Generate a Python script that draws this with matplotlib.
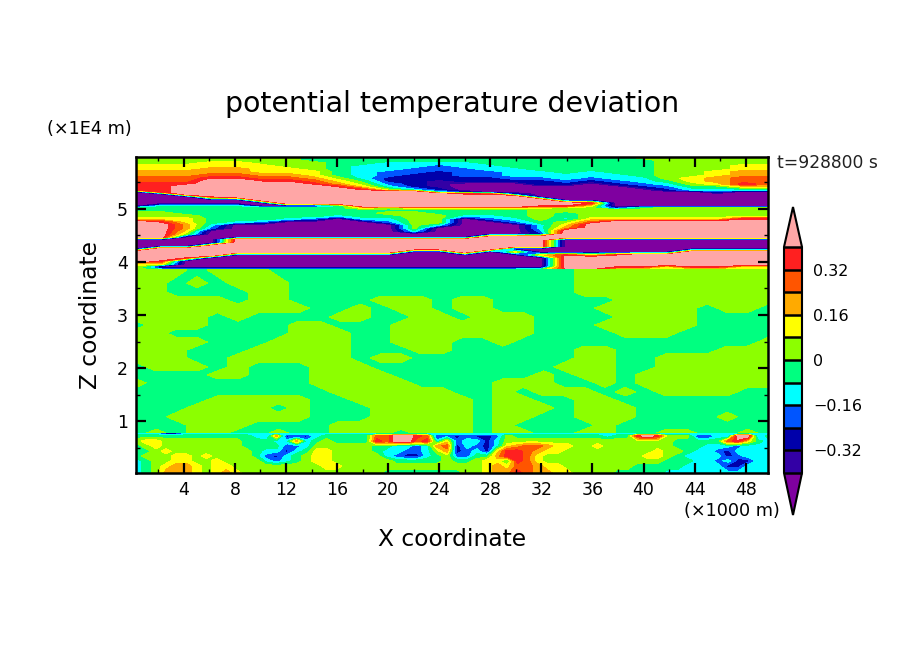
import numpy as np
import matplotlib
matplotlib.use('Agg')
import matplotlib.pyplot as plt

W, H = 904, 654

# deviation values, one per colour band (K)
P, R, O, A, Y, L = 0.46, 0.36, 0.28, 0.20, 0.12, 0.04
S, C, B, N, I, V = -0.04, -0.12, -0.20, -0.28, -0.36, -0.46

levels = [-0.40, -0.32, -0.24, -0.16, -0.08, 0, 0.08, 0.16, 0.24, 0.32, 0.40]
band_colors = ['#7f00a0', '#3300a5', '#0000aa', '#0055ff', '#00ffff', '#00ff80',
               '#8cff00', '#ffff00', '#ffaa00', '#ff5500', '#ff2020', '#ffa6a6']
cbar_ticks = [-0.32, -0.16, 0, 0.16, 0.32]
cbar_labels = ['\u22120.32', '\u22120.16', '0', '0.16', '0.32']
x_ticks = list(range(4, 49, 4))
z_ticks = [1, 2, 3, 4, 5]

# upper layers, z from top down (x1E4 m), one list per x station
z_top = [5.98, 5.92, 5.87, 5.81, 5.75, 5.70, 5.64, 5.58, 5.53, 5.47,
         5.42, 5.36, 5.32, 5.28, 5.23, 5.17, 5.11, 5.06, 5.02, 4.98,
         4.92, 4.87, 4.81, 4.75, 4.70, 4.64, 4.58, 4.53, 4.47, 4.42,
         4.36, 4.30, 4.25, 4.19, 4.13, 4.08, 4.02, 3.96, 3.91, 3.85]
theta_top = [
    [L,L,L,Y,Y,A,A,O,O,R,R,R]+[V]*6+[S,S,L,L,Y]+[P]*6+[V]*4+[P]*4+[Y,L,L],
    [L,L,L,Y,Y,A,A,O,O,R,R,R,R]+[V]*4+[C,S,S,L,L,Y,R]+[P]*5+[V]*3+[P]*4+[R,Y,V,S],
    [L,L,L,Y,Y,A,A,O,O,R]+[P]*4+[V]*3+[C,S,S,S,L,Y,Y,A,A,Y,L]+[V]*4+[P]*3+[R]+[V]*3+[S],
    [L,L,Y,Y,A,A,O,R]+[P]*6+[R,V,V,C]+[S]*6+[C,B]+[V]*5+[P]*4+[V]*4+[S],
    [L,L,Y,Y,A,A,O,R]+[P]*7+[V,V,C]+[S]*5+[C]+[V]*5+[P]*5+[V]*5+[S],
    [L,L,L,Y,Y,Y,A,O,R]+[P]*7+[V,V]+[S]*5+[B]+[V]*5+[P]*5+[V]*5+[S],
    [L,L,L,L,Y,Y,A,O,R]+[P]*8+[V]+[S]*4+[C]+[V]*6+[P]*5+[V]*5+[S],
    [S,S,L,L,L,Y,Y,A,O,R]+[P]*7+[V]+[S]*4+[B]+[V]*6+[P]*5+[V]*5+[S],
    [S]*7+[L,Y,A,R]+[P]*6+[C]+[S]*3+[C]+[V]*7+[P]*5+[V]*5+[S],
    [S,S,S]+[C]*5+[S,L,Y,R]+[P]*6+[Y]+[S]*3+[C]+[V]*6+[P]*5+[V]*5+[S],
    [S,S,C,C,C,B,B,N,N,B,C,L]+[P]*6+[L,S,L,S,C,B]+[V]*5+[P]*5+[V]*5+[S],
    [S,S,C,C,B,B,N,N,N,N,N,C]+[P]*6+[Y,S]+[L]*6+[C,V,V]+[P]*4+[V]*6+[S],
    [S,S,C,B,B,N,N,N,I,I,I,N,C]+[P]*5+[Y,S,S,L,L,L,C]+[V]*4+[P]*4+[V]*6+[S],
    [S,S,C,C,B,B,B,N,N,V,V,V,N,R]+[P]*4+[Y,S,S,C]+[V]*7+[P]*5+[V]*5+[S],
    [S,S,S,C,C,B,B,N,N,V,V,V,V,R]+[P]*4+[Y,S,S,C,B]+[V]*5+[P]*5+[V]*6+[S],
    [S,S,S,S,C,C,C,B,N]+[V]*4+[N]+[P]*4+[Y,S,S,S,C,B]+[V]*4+[P]*4+[V,Y]+[V]*5+[S],
    [S]*5+[C,C,B,N,N]+[V]*5+[P,P,R,Y,L,L,L,L,S,C,C,B,N]+[P]*4+[V,V,Y]+[V]*4+[L],
    [S]*6+[C,C,B,N]+[V]*6+[P,R,L,L,S,S,C,L,Y,A]+[P]*3+[V]*5+[R]+[P]*4+[R],
    [S]*5+[C,C,B,N]+[V]*7+[R,Y]+[L]*4+[Y,O]+[P]*5+[V]*5+[Y]+[P]*4+[R],
    [S]*6+[C,C,B,N]+[V]*8+[N,L,L,L,Y]+[P]*6+[V]*5+[R]+[P]*3+[R,L],
    [L]+[S]*6+[C,C,B,N]+[V]*7+[S,L,L,L,Y]+[P]*6+[V]*5+[P]*4+[R,L],
    [L]*8+[S,C,B,N]+[V]*6+[L]*4+[Y]+[P]*6+[V]*5+[P]*4+[Y,L],
    [L]*7+[Y,Y,L,S,C]+[V]*6+[L]*4+[Y]+[P]*6+[V]*4+[P]*5+[R,L],
    [L]*5+[Y,Y,A,A,Y,S,C,N]+[V]*5+[L]*4+[Y]+[P]*6+[V]*4+[P]*5+[R,L],
    [L]*3+[Y,Y,A,A,O,O,R,Y,C]+[V]*6+[L]*4+[R]+[P]*6+[V]*4+[P]*5+[Y,L],
    [L]*3+[Y,Y,A,A,O,O,O,Y,C]+[V]*6+[L]*4+[R]+[P]*6+[V]*4+[P]*5+[Y,L],
]

# middle of the domain, patchy lime / green, one list per z
z_mid = [3.85, 3.60, 3.43, 3.28, 3.13, 2.96, 2.81, 2.66, 2.49, 2.34, 2.19,
         2.02, 1.87, 1.72, 1.55, 1.40, 1.25, 1.08, 0.92, 0.77]
theta_mid = [
    [L,L,L,S,L,L,L,S,S,S,S,S,S,S,S,S,S,S,S,S,S,S,L,L,L,L,L,L,L,L,L,L],
    [L,L,S,L,S,L,L,L,S,S,S,S,S,S,S,S,S,S,S,S,S,S,L,L,L,L,L,L,L,L,L,L],
    [L,L,S,S,S,S,L,L,S,S,S,S,S,S,S,S,S,S,S,S,S,S,L,L,L,L,L,L,L,L,L,L],
    [L,L,L,L,L,S,L,L,S,S,S,S,L,L,L,S,L,L,S,S,S,S,S,S,L,L,L,L,L,L,L,L],
    [L,L,L,L,L,L,L,L,L,S,S,L,S,L,L,S,L,L,S,S,S,S,S,L,L,L,L,L,S,L,L,S],
    [L,L,L,L,S,L,S,S,S,S,L,L,S,S,L,L,S,L,L,L,S,S,S,S,L,L,L,L,S,S,S,S],
    [S,L,L,L,S,S,S,S,L,L,S,S,S,L,L,L,L,L,L,L,S,S,S,L,L,L,L,L,S,S,S,S],
    [L,L,S,S,S,S,S,S,L,L,L,S,S,L,L,L,L,L,L,L,S,S,S,S,L,L,L,S,S,S,S,S],
    [L,L,L,L,S,S,S,L,L,L,L,S,S,L,L,L,S,S,L,S,S,S,S,S,S,S,S,S,S,S,S,L],
    [L,L,L,S,S,S,L,L,L,L,L,S,S,S,L,L,S,S,S,S,S,S,L,L,S,S,S,S,S,L,L,L],
    [L,L,L,S,S,L,L,L,L,L,L,S,L,L,S,S,S,S,S,S,S,S,L,L,S,S,L,L,L,L,L,L],
    [S,L,L,L,S,L,S,S,S,L,L,L,S,S,S,S,S,S,S,S,S,L,L,L,S,S,L,L,L,L,L,L],
    [S,S,S,S,L,L,S,S,S,L,L,L,L,S,S,S,S,S,S,S,L,S,L,L,S,L,L,L,L,L,L,L],
    [L,S,S,S,S,S,S,S,S,L,L,L,L,L,S,S,S,S,L,L,L,S,S,L,S,L,L,L,L,L,L,L],
    [S,S,S,S,S,S,S,S,S,S,L,L,L,L,L,L,S,S,L,S,L,L,L,S,L,S,L,L,L,L,S,S],
    [S,S,S,S,L,L,L,L,L,S,S,L,L,L,L,L,L,S,L,L,S,S,L,L,S,S,S,S,S,S,S,S],
    [S,S,S,L,L,L,L,S,L,S,S,S,L,L,L,L,L,S,L,L,L,S,L,L,L,S,S,S,S,S,S,S],
    [S,S,L,L,L,L,L,L,L,S,S,S,L,L,L,L,L,S,L,L,S,S,L,L,L,S,S,S,S,L,S,S],
    [S,S,S,L,L,L,S,S,S,S,L,L,L,L,L,L,L,S,L,S,S,S,S,L,S,S,S,S,S,S,S,S],
    [S,L,S,L,L,S,S,L,S,S,L,L,L,S,L,L,L,S,L,L,S,S,L,L,S,S,L,L,S,S,L,S],
]

# lowest layer with the eddies, one list per z
z_low = [0.76, 0.72, 0.62, 0.53, 0.43, 0.34, 0.25, 0.15, 0.02]
theta_low = [
    [C,C,C,N,N]+[C]*59,
    [S]*12+[C,B,A,N,N,N,C]+[S]*5+[O,O,P,P,R,O,N,B,N,B,N,N,B,L]+[S]*9+[C,S,S,R,P,R,L,L,L,N,N,C,B,P,P,B,S],
    [L,Y,Y]+[L]*8+[S,S,S,C,C,A,C,S,L,S,S,S,S,R,O,P,P,O,R,C,Y,B,C,C,N,C]+[L]*17+[S]*5+[O,R,Y,S,C],
    [S,L,Y]+[L]*8+[S,S,S,S,B,B,C,L]+[L]*5+[S,S,C,C,B,C,A,O,N,C,B,N,C,Y,A,O,O,A,Y,Y,L,L,Y]+[L]*7+[S,S,S,C,C,C,B,C,C,C],
    [S,S,L,Y]+[L]*8+[S,C,C,N,C,S,Y,Y,L,L,L,L,S,C,C,B,B,C,L,A,N,B,C,N,Y,R,R,O,A,Y,Y]+[L]*9+[Y,L,L,S,C,C,B,N,C,C,C,C],
    [S,L,L,L,Y,Y,L,Y]+[L]*4+[S,B,N,C,S,L,Y,Y]+[L]*5+[C,B,N,N,C,S,L,B,B,S,S,A,R,R,O,Y]+[L]*10+[Y,Y,L,S,C,C,C,C,N,B,C,C,C],
    [C,S,L,L,Y,Y,L,L,Y]+[L]*4+[C,B,C,S,L,Y,Y]+[L]*6+[S]*5+[L,S,S,L,Y,Y,S,R,O,Y]+[L]*12+[S,S,S,C,C,B,C,N,N,C,C],
    [C,S,L,Y,A,A,Y,L,Y,Y]+[L]*9+[Y,Y]+[L]*14+[Y,A,Y,O,O,A,Y,Y]+[L]*7+[S]*5+[C]*4+[N,N,C,C,C],
    [C,S,L,A,A,A,Y,L,Y,A,Y]+[L]*14+[S]*8+[L,L,Y,A,A,R,O,A,A,Y,Y]+[L]*4+[S]*5+[C]*11,
]

x_top = np.linspace(0.25, 49.75, len(theta_top))
x_mid = np.linspace(0.25, 49.75, len(theta_mid[0]))
x_low = np.linspace(0.25, 49.75, len(theta_low[0]))

fig = plt.figure(figsize=(W / 100, H / 100), dpi=100)
ax = fig.add_axes([136 / W, 1 - 473 / H, 632 / W, 316 / H])

opts = dict(levels=levels, colors=band_colors, extend='both', antialiased=False)
cs = ax.contourf(x_top, z_top, np.array(theta_top).T, **opts)
ax.contourf(x_mid, z_mid, np.array(theta_mid), **opts)
ax.contourf(x_low, z_low, np.array(theta_low), **opts)

ax.set_xlim(0.25, 49.75)
ax.set_ylim(0.02, 5.98)
ax.set_xticks(x_ticks)
ax.set_xticks(range(2, 50, 4), minor=True)
ax.set_yticks(z_ticks)
ax.set_yticks([0.5, 1.5, 2.5, 3.5, 4.5, 5.5], minor=True)
ax.tick_params(which='major', direction='in', length=7, width=1.6, top=True, right=True,
               labelsize=12.5)
ax.tick_params(axis='x', which='major', pad=5.5)
ax.tick_params(axis='y', which='major', pad=6)
ax.tick_params(which='minor', direction='in', length=3, width=1, top=True, right=True)
for sp in ax.spines.values():
    sp.set_linewidth(1.8)

fig.text(452 / W, 1 - 104 / H, 'potential temperature deviation', ha='center', va='center', fontsize=20.4)
fig.text(452 / W, 1 - 539 / H, 'X coordinate', ha='center', va='center', fontsize=16.8)
fig.text(91 / W, 1 - 315 / H, 'Z coordinate', ha='center', va='center', rotation=90, fontsize=16.8)
fig.text(89.5 / W, 1 - 129 / H, '(\u00d71E4 m)', ha='center', va='center', fontsize=12.7)
fig.text(732 / W, 1 - 511 / H, '(\u00d71000 m)', ha='center', va='center', fontsize=12.7)
fig.text(827 / W, 1 - 163 / H, 't=928800 s', ha='center', va='center', fontsize=12.3, color='#222222')

cax = fig.add_axes([784 / W, 1 - 515 / H, 18 / W, 308 / H])
cb = fig.colorbar(cs, cax=cax, drawedges=True, extendfrac=[42 / 226, 40 / 226])
cb.set_ticks(cbar_ticks, labels=cbar_labels)
cb.ax.tick_params(length=0, labelsize=11.5, pad=8)
cb.dividers.set_linewidth(1.8)
cb.outline.set_linewidth(1.5)

fig.savefig('out.png', dpi=100)
